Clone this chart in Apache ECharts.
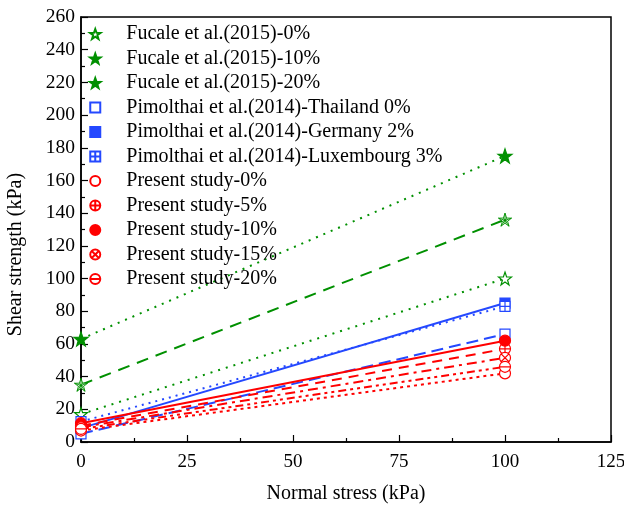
<!DOCTYPE html>
<html>
<head>
<meta charset="utf-8">
<script src="https://cdn.jsdelivr.net/npm/echarts@6/dist/echarts.min.js"></script>
<style>html,body{margin:0;padding:0;background:#fff}#c{width:624px;height:506px}</style>
</head>
<body>
<div id="c"></div>
<script>
// ---- data ----
var xTicks = [0, 25, 50, 75, 100, 125];
var stressX = [0, 100];
var seriesNames = [
  'Fucale et al.(2015)-0%',
  'Fucale et al.(2015)-10%',
  'Fucale et al.(2015)-20%',
  'Pimolthai et al.(2014)-Thailand 0%',
  'Pimolthai et al.(2014)-Germany 2%',
  'Pimolthai et al.(2014)-Luxembourg 3%',
  'Present study-0%',
  'Present study-5%',
  'Present study-10%',
  'Present study-15%',
  'Present study-20%'
];
var fucale0 = [17, 100];
var fucale10 = [63, 175];
var fucale20 = [35, 136];
var thailand0 = [5, 66];
var germany2 = [8.5, 85];
var luxembourg3 = [12.5, 83];
var present0 = [7, 42];
var present5 = [10, 57];
var present10 = [11.5, 62];
var present15 = [9, 51.5];
var present20 = [8, 46];

// ---- styles ----
var GREEN = '#009000', BLUE = '#2448ff', RED = '#ff0000';
var STAR = 'M0,-10 L2.351,-3.236 L9.511,-3.09 L3.804,1.236 L5.878,8.09 L0,4 L-5.878,8.09 L-3.804,1.236 L-9.511,-3.09 L-2.351,-3.236 Z';
var STARX = STAR + ' M0,-10 L0,4 M-9.511,-3.09 L3.804,1.236 M9.511,-3.09 L-3.804,1.236 M-5.878,8.09 L2.351,-3.236 M5.878,8.09 L-2.351,-3.236';
var SQ = 'M-10,-10 L10,-10 L10,10 L-10,10 Z';
var SQP = SQ + ' M-10,0 L10,0 M0,-10 L0,10';
var CIR = 'M0,-10 A10,10,0,1,1,0,10 A10,10,0,1,1,0,-10 Z';
var CIRP = CIR + ' M-10,0 L10,0 M0,-10 L0,10';
var CIRX = CIR + ' M-7.07,-7.07 L7.07,7.07 M7.07,-7.07 L-7.07,7.07';
var CIRM = CIR + ' M-10,0 L10,0';

var defs = [
  {d: fucale0, c: GREEN, sym: 'path://' + STAR, fill: '#fff', size: 13, ls: [2, 6], bw: 1.2},
  {d: fucale10, c: GREEN, sym: 'path://' + STAR, fill: GREEN, size: 14, ls: [2, 6], bw: 1.2},
  {d: fucale20, c: GREEN, sym: 'path://' + STARX, fill: '#fff', size: 13, ls: [12, 8], bw: 0.9},
  {d: thailand0, c: BLUE, sym: 'path://' + SQ, fill: '#fff', size: 10, ls: [12, 6], bw: 1.2},
  {d: germany2, c: BLUE, sym: 'path://' + SQ, fill: BLUE, size: 10, ls: 'solid', bw: 1.2},
  {d: luxembourg3, c: BLUE, sym: 'path://' + SQP, fill: '#fff', size: 10, ls: [2, 5], bw: 1.2},
  {d: present0, c: RED, sym: 'path://' + CIR, fill: '#fff', size: 11, ls: [3, 4], bw: 1.2},
  {d: present5, c: RED, sym: 'path://' + CIRP, fill: '#fff', size: 11, ls: [10, 7], bw: 1.2},
  {d: present10, c: RED, sym: 'path://' + CIR, fill: RED, size: 11, ls: 'solid', bw: 1.2},
  {d: present15, c: RED, sym: 'path://' + CIRX, fill: '#fff', size: 11, ls: [10, 5, 3, 5], bw: 1.2},
  {d: present20, c: RED, sym: 'path://' + CIRM, fill: '#fff', size: 11, ls: [8, 4, 3, 4, 3, 4], bw: 1.2}
];

function pairs(arr) { return stressX.map(function (x, i) { return [x, arr[i]]; }); }

var series = [];
defs.forEach(function (s, i) {
  series.push({
    type: 'line', data: pairs(s.d), symbol: 'none', silent: true, z: 2,
    lineStyle: {color: s.c, width: 2, type: s.ls}
  });
});
defs.forEach(function (s, i) {
  series.push({
    type: 'scatter', name: seriesNames[i], data: pairs(s.d), symbol: s.sym, symbolSize: s.size, z: 3,
    itemStyle: {color: s.fill, borderColor: s.c, borderWidth: s.bw, opacity: 1}
  });
});

var FONT = 'Liberation Serif';
var chart = echarts.init(document.getElementById('c'), null, {renderer: 'canvas'});
chart.setOption({
  animation: false,
  backgroundColor: '#fff',
  grid: {left: 81, right: 13, top: 17, bottom: 64, show: true, borderColor: '#000', borderWidth: 1.5,
    containLabel: false, outerBoundsMode: 'none'},
  legend: {
    orient: 'vertical', left: 84, top: 19, itemWidth: 52, itemHeight: 10, itemGap: 4.5,
    data: seriesNames,
    textStyle: {fontFamily: FONT, fontSize: 20, lineHeight: 20, color: '#000'}
  },
  xAxis: {
    type: 'value', min: 0, max: 125, interval: 25,
    name: 'Normal stress (kPa)', nameLocation: 'middle', nameGap: 42,
    nameTextStyle: {fontFamily: FONT, fontSize: 20, color: '#000'},
    axisLine: {show: true, onZero: false, lineStyle: {color: '#000', width: 1.5}},
    axisTick: {show: true, inside: true, length: 7, lineStyle: {color: '#000', width: 1.2}},
    minorTick: {show: true, splitNumber: 2, length: 4, lineStyle: {color: '#000', width: 1.2}},
    axisLabel: {fontFamily: FONT, fontSize: 19, color: '#000', margin: 11,
      formatter: function (v) { return xTicks.indexOf(v) >= 0 ? String(v) : ''; }},
    splitLine: {show: false}
  },
  yAxis: {
    type: 'value', min: 0, max: 260, interval: 20,
    name: 'Shear strength (kPa)', nameLocation: 'middle', nameGap: 55,
    nameTextStyle: {fontFamily: FONT, fontSize: 20, color: '#000', padding: [0, 50, 0, 0]},
    axisLine: {show: true, onZero: false, lineStyle: {color: '#000', width: 1.5}},
    axisTick: {show: true, inside: true, length: 7, lineStyle: {color: '#000', width: 1.2}},
    minorTick: {show: true, splitNumber: 2, length: 4, lineStyle: {color: '#000', width: 1.2}},
    axisLabel: {fontFamily: FONT, fontSize: 19.5, color: '#000', margin: 6},
    splitLine: {show: false}
  },
  series: series
});
</script>
</body>
</html>
